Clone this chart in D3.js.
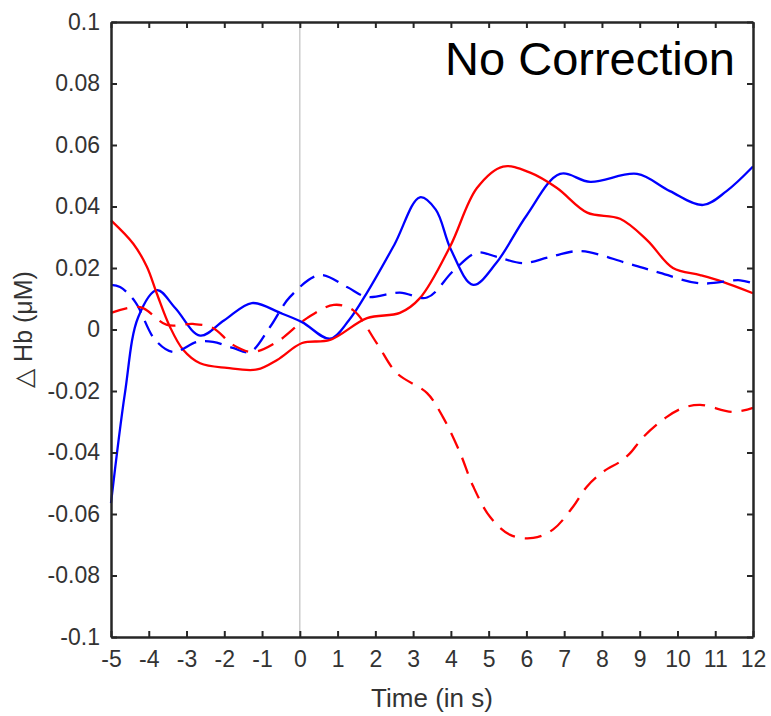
<!DOCTYPE html>
<html>

<head>
    <meta charset="utf-8">
    <script src="https://d3js.org/d3.v7.min.js"></script>
    <style>
        body {
            margin: 0;
            background: #fff;
        }

        text {
            font-family: "Liberation Sans", Arial, sans-serif;
        }
    </style>
</head>

<body>
    <div id="chart"></div>

    <script>
        // tick values and labels
        var xTicks = [-5, -4, -3, -2, -1, 0, 1, 2, 3, 4, 5, 6, 7, 8, 9, 10, 11, 12];
        var xTickLabels = ["-5", "-4", "-3", "-2", "-1", "0", "1", "2", "3", "4", "5", "6", "7", "8", "9", "10", "11", "12"];
        var yTicks = [-0.1, -0.08, -0.06, -0.04, -0.02, 0, 0.02, 0.04, 0.06, 0.08, 0.1];
        var yTickLabels = ["-0.1", "-0.08", "-0.06", "-0.04", "-0.02", "0", "0.02", "0.04", "0.06", "0.08", "0.1"];

        // blue solid
        var blueSolidT = [-5, -4.63, -4.28, -3.78, -3.3, -2.64, -2.0, -1.27, -0.52, 0.06, 0.8, 1.3, 1.78, 2.5, 3.18, 3.6, 4.0, 4.59, 5.2, 6.0, 6.89, 7.69, 8.93, 9.8, 10.68, 11.3, 12];
        var blueSolidV = [-0.0565, -0.0206, 0.004, 0.0128, 0.007, -0.002, 0.003, 0.0086, 0.0054, 0.0024, -0.003, 0.003, 0.012, 0.0275, 0.043, 0.039, 0.026, 0.0145, 0.0216, 0.037, 0.0506, 0.048, 0.0506, 0.045, 0.0405, 0.045, 0.053];

        // red solid
        var redSolidT = [-5, -4.41, -4.05, -3.79, -3.44, -3.09, -2.64, -1.93, -1.13, -0.6, 0.06, 0.8, 1.78, 2.65, 3.18, 3.98, 4.69, 5.38, 6.1, 6.81, 7.61, 8.48, 9.2, 9.88, 10.6, 11.2, 12];
        var redSolidV = [0.0355, 0.0279, 0.0204, 0.0118, 0.0009, -0.0066, -0.011, -0.0125, -0.013, -0.0099, -0.0044, -0.0034, 0.0037, 0.0054, 0.0102, 0.027, 0.046, 0.053, 0.051, 0.046, 0.038, 0.036, 0.029, 0.020, 0.0177, 0.0155, 0.0118];

        // blue dashed
        var blueDashT = [-5, -4.76, -4.36, -3.83, -3.35, -2.72, -2.3, -1.77, -1.32, -0.79, -0.26, 0.53, 1.25, 1.78, 2.65, 3.37, 4.06, 4.69, 5.22, 5.91, 6.6, 7.42, 8.66, 9.54, 10.6, 11.66, 12];
        var blueDashV = [0.0145, 0.0138, 0.009, -0.0034, -0.0073, -0.004, -0.004, -0.006, -0.0073, 0.0008, 0.0106, 0.0177, 0.0138, 0.0106, 0.012, 0.0104, 0.019, 0.025, 0.0236, 0.0216, 0.0235, 0.0255, 0.0216, 0.0184, 0.015, 0.016, 0.015];

        // red dashed
        var redDashT = [-5, -4.23, -3.52, -2.83, -2.3, -1.77, -1.24, -0.6, 0.19, 0.9, 1.41, 2.04, 2.57, 3.37, 3.79, 4.24, 4.59, 5.04, 5.57, 6.18, 6.71, 7.23, 7.6, 8.04, 8.48, 8.74, 9.1, 9.72, 10.15, 10.6, 11.47, 12];
        var redDashV = [0.0054, 0.0073, 0.0015, 0.0018, 0.0005, -0.005, -0.0073, -0.004, 0.0037, 0.008, 0.0063, -0.0045, -0.0142, -0.0207, -0.0285, -0.040, -0.051, -0.061, -0.0668, -0.0678, -0.065, -0.0577, -0.0511, -0.0462, -0.043, -0.0403, -0.0349, -0.0284, -0.0255, -0.0245, -0.0268, -0.0255];

        var series = [
            { t: blueSolidT, v: blueSolidV, color: "#0000ff", dash: null },
            { t: redSolidT, v: redSolidV, color: "#ff0000", dash: null },
            { t: blueDashT, v: blueDashV, color: "#0000ff", dash: "17,9" },
            { t: redDashT, v: redDashV, color: "#ff0000", dash: "17,10" }
        ];

        var W = 771, H = 716;
        var margin = { top: 22, right: 18, bottom: 79, left: 111 },
            width = W - margin.left - margin.right,
            height = H - margin.top - margin.bottom;

        var svg = d3.select("#chart")
            .append("svg")
            .attr("width", W)
            .attr("height", H)
            .append("g")
            .attr("transform", "translate(" + margin.left + "," + margin.top + ")");

        var x = d3.scaleLinear().domain([-5, 12]).range([0, width]);
        var y = d3.scaleLinear().domain([-0.1, 0.1]).range([height, 0]);

        var axisColor = "#262626";

        // zero line
        svg.append("line")
            .attr("x1", x(0)).attr("x2", x(0))
            .attr("y1", 0).attr("y2", height)
            .attr("stroke", "#c0c0c0")
            .attr("stroke-width", 1.2);

        // curves
        var line = d3.line()
            .x(function (d) { return x(d[0]); })
            .y(function (d) { return y(d[1]); })
            .curve(d3.curveCatmullRom.alpha(0.5));

        series.forEach(function (s) {
            var pts = s.t.map(function (t, i) { return [t, s.v[i]]; });
            svg.append("path")
                .datum(pts)
                .attr("fill", "none")
                .attr("stroke", s.color)
                .attr("stroke-width", 2.3)
                .attr("stroke-dasharray", s.dash)
                .attr("d", line);
        });

        // axes
        function styleAxis(g) {
            g.select(".domain").attr("stroke", axisColor).attr("stroke-width", 2.5);
            g.selectAll(".tick line").attr("stroke", axisColor).attr("stroke-width", 2);
            g.selectAll(".tick text")
                .attr("fill", "#333")
                .style("font-size", "23px");
        }

        svg.append("g")
            .attr("transform", "translate(0," + height + ")")
            .call(d3.axisBottom(x).tickValues(xTicks).tickSize(-6).tickSizeOuter(0).tickPadding(14)
                .tickFormat(function (d, i) { return xTickLabels[i]; }))
            .call(styleAxis);

        svg.append("g")
            .call(d3.axisLeft(y).tickValues(yTicks).tickSize(-6).tickSizeOuter(0).tickPadding(11)
                .tickFormat(function (d, i) { return yTickLabels[i]; }))
            .call(styleAxis);

        svg.append("g")
            .call(d3.axisTop(x).tickValues(xTicks).tickSize(-6).tickSizeOuter(0).tickFormat(""))
            .call(styleAxis);

        svg.append("g")
            .attr("transform", "translate(" + width + ",0)")
            .call(d3.axisRight(y).tickValues(yTicks).tickSize(-6).tickSizeOuter(0).tickFormat(""))
            .call(styleAxis);

        // labels
        svg.append("text")
            .attr("x", width / 2)
            .attr("y", height + 70)
            .attr("text-anchor", "middle")
            .attr("fill", "#333")
            .style("font-size", "26px")
            .text("Time (in s)");

        svg.append("text")
            .attr("transform", "translate(-79," + (height / 2) + ") rotate(-90)")
            .attr("text-anchor", "middle")
            .attr("fill", "#333")
            .style("font-size", "25px")
            .text("\u25B3 Hb (\u03BCM)");

        svg.append("text")
            .attr("x", width - 18)
            .attr("y", 53)
            .attr("text-anchor", "end")
            .attr("fill", "#000")
            .style("font-size", "47px")
            .text("No Correction");
    </script>
</body>

</html>
